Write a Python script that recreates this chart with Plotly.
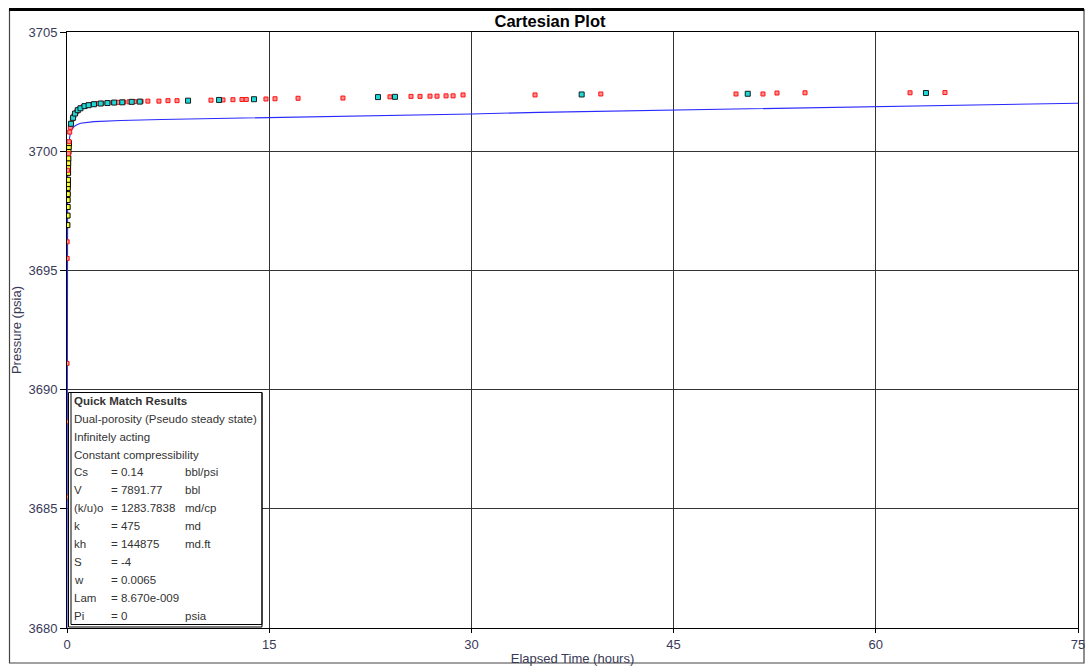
import plotly.graph_objects as go

# ---------------- data ----------------
red_t = [0.0, 0.0, 0.0, 0.01, 0.01, 0.05, 0.1, 0.15, 0.2, 0.25, 0.3, 0.4, 0.5, 0.6, 0.7, 0.8,
         0.9, 1.0, 1.2, 1.4, 1.6, 1.8, 2.0, 2.3, 2.6, 3.0, 3.4, 3.8, 4.2, 4.6, 5.0, 5.5, 6.0,
         6.82, 7.49, 8.16, 10.68, 11.57, 12.31, 12.98, 13.3, 14.76, 15.43, 17.14, 20.47,
         23.96, 25.52, 26.19, 26.93, 27.45, 28.12, 28.64, 29.38, 34.72, 39.6, 49.63, 51.63,
         52.67, 54.75, 62.54, 65.13]
red_p = [3685.5, 3688.65, 3691.1, 3695.5, 3696.2, 3699.2, 3699.9, 3700.4, 3700.8, 3701.0,
         3701.15, 3701.35, 3701.48, 3701.58, 3701.65, 3701.72, 3701.77, 3701.81, 3701.87,
         3701.91, 3701.94, 3701.96, 3701.98, 3702.0, 3702.01, 3702.03, 3702.04, 3702.05,
         3702.06, 3702.07, 3702.08, 3702.09, 3702.1, 3702.1, 3702.12, 3702.12, 3702.14,
         3702.15, 3702.16, 3702.17, 3702.17, 3702.19, 3702.2, 3702.22, 3702.23, 3702.28,
         3702.3, 3702.3, 3702.31, 3702.31, 3702.32, 3702.32, 3702.36, 3702.36, 3702.4,
         3702.4, 3702.4, 3702.44, 3702.45, 3702.45, 3702.46]

cyan_t = [0.3, 0.45, 0.6, 0.8, 1.0, 1.3, 1.6, 2.0, 2.5, 3.0, 3.5, 4.1, 4.8, 5.4,
          8.98, 11.28, 13.87, 23.07, 24.33, 38.18, 50.5, 63.72]
cyan_p = [3701.15, 3701.4, 3701.58, 3701.72, 3701.8, 3701.89, 3701.93, 3701.97, 3702.0,
          3702.02, 3702.04, 3702.05, 3702.07, 3702.08, 3702.12, 3702.15, 3702.18, 3702.27,
          3702.28, 3702.38, 3702.41, 3702.44]

yellow_t = [0.03, 0.04, 0.05, 0.05, 0.06, 0.06, 0.07, 0.07, 0.08, 0.08, 0.09, 0.1, 0.11,
            0.13, 0.15]
yellow_p = [3696.9, 3697.3, 3697.66, 3697.95, 3698.2, 3698.46, 3698.62, 3698.8, 3699.09,
            3699.3, 3699.5, 3699.7, 3699.97, 3700.18, 3700.34]

model_t = [0.0, 0.02, 0.05, 0.1, 0.2, 0.3, 0.5, 0.7, 1.0, 2.0, 4.0, 7.0, 10.0, 15.0, 20.0,
           25.0, 30.0, 35.0, 40.0, 45.0, 50.0, 55.0, 60.0, 65.0, 70.0, 75.0]
model_p = [3680.0, 3697.0, 3699.3, 3700.0, 3700.6, 3700.85, 3701.02, 3701.1, 3701.17,
           3701.24, 3701.29, 3701.33, 3701.36, 3701.39, 3701.43, 3701.49, 3701.56, 3701.63,
           3701.68, 3701.73, 3701.78, 3701.83, 3701.87, 3701.92, 3701.97, 3702.01]

x_ticks = [0, 15, 30, 45, 60, 75]
y_ticks = [3680, 3685, 3690, 3695, 3700, 3705]

results_title = "Quick Match Results"
results_lines = ["Dual-porosity (Pseudo steady state)", "Infinitely acting",
                 "Constant compressibility"]
param_names = ["Cs", "V", "(k/u)o", "k", "kh", "S", "w", "Lam", "Pi"]
param_values = ["= 0.14", "= 7891.77", "= 1283.7838", "= 475", "= 144875", "= -4",
                "= 0.0065", "= 8.670e-009", "= 0"]
param_units = ["bbl/psi", "bbl", "md/cp", "md", "md.ft", "", "", "", "psia"]

# ---------------- figure ----------------
FONT = "Arial, 'Liberation Sans', sans-serif"
TXT = "#3a3a58"
BOX_TXT = "#333333"

W, H = 1088, 666
# plot area in page pixels: x 67..1078, y 32..628
PL, PR, PT, PB = 67, 1078, 32, 628
L, T = PL, PT
R = W - PR
B = H - PB


def px(x):
    return (x - PL) / (PR - PL)


def py(y):
    return (PB - y) / (PB - PT)


fig = go.Figure()

fig.add_trace(go.Scatter(x=model_t, y=model_p, mode="lines",
                         line=dict(color="#2a2aff", width=1.1), showlegend=False,
                         hoverinfo="skip"))
fig.add_trace(go.Scatter(x=yellow_t, y=yellow_p, mode="markers",
                         marker=dict(symbol="square", size=5, color="#ffff30",
                                     line=dict(color="#000000", width=1)),
                         showlegend=False))
fig.add_trace(go.Scatter(x=red_t, y=red_p, mode="markers",
                         marker=dict(symbol="square", size=4, color="#ff9090",
                                     line=dict(color="#ff1010", width=1)),
                         showlegend=False))
fig.add_trace(go.Scatter(x=cyan_t, y=cyan_p, mode="markers",
                         marker=dict(symbol="square", size=5, color="#20d8d8",
                                     line=dict(color="#102020", width=1)),
                         showlegend=False))

shapes = []
# outer frame
shapes.append(dict(type="rect", xref="paper", yref="paper", x0=px(9.5), x1=px(1084),
                   y0=py(663), y1=py(9.5), line=dict(color="#444444", width=1.2),
                   layer="below"))
shapes.append(dict(type="line", xref="paper", yref="paper", x0=px(9), x1=px(1084),
                   y0=py(9.5), y1=py(9.5), line=dict(color="#000000", width=3)))
# results box (opaque, covers the grid)
shapes.append(dict(type="rect", xref="paper", yref="paper", x0=px(68.5), x1=px(262),
                   y0=py(627), y1=py(392.5), fillcolor="white",
                   line=dict(color="#000000", width=1), layer="above"))
shapes.append(dict(type="rect", xref="paper", yref="paper", x0=px(71), x1=px(262),
                   y0=py(624.5), y1=py(392.5), fillcolor="rgba(0,0,0,0)",
                   line=dict(color="#000000", width=1), layer="above"))

annotations = []
row0 = 400.7
step = 17.94
FS = 11.5
annotations.append(dict(text="<b>" + results_title + "</b>", x=px(72), y=py(row0),
                        xref="paper", yref="paper", xanchor="left", yanchor="middle",
                        showarrow=False, font=dict(family=FONT, size=FS, color=BOX_TXT)))
for i, s in enumerate(results_lines):
    annotations.append(dict(text=s, x=px(72), y=py(row0 + step * (i + 1)),
                            xref="paper", yref="paper", xanchor="left", yanchor="middle",
                            showarrow=False,
                            font=dict(family=FONT, size=FS, color=BOX_TXT)))
for j, (n, v, u) in enumerate(zip(param_names, param_values, param_units)):
    yy = py(row0 + step * (j + 1 + len(results_lines)))
    for xx, s in ((72, n), (109, v), (183, u)):
        if s:
            annotations.append(dict(text=s, x=px(xx), y=yy, xref="paper", yref="paper",
                                    xanchor="left", yanchor="middle", showarrow=False,
                                    font=dict(family=FONT, size=FS, color=BOX_TXT)))

fig.update_layout(
    width=W, height=H, autosize=False,
    margin=dict(l=L, r=R, t=T, b=B, pad=0),
    paper_bgcolor="white", plot_bgcolor="white",
    title=dict(text="<b>Cartesian Plot</b>", x=550 / W, xref="container",
               xanchor="center", y=1 - 21 / H, yref="container", yanchor="middle",
               font=dict(family=FONT, size=16.5, color="#000000")),
    xaxis=dict(range=[0, 75], tickvals=x_ticks, ticktext=[str(v) for v in x_ticks],
               automargin=False, layer="below traces",
               showgrid=True, gridcolor="#333333", gridwidth=1, zeroline=False,
               showline=True, linecolor="#000000", linewidth=1, mirror=True,
               ticks="outside", ticklen=4, tickcolor="#000000",
               tickfont=dict(family=FONT, size=13, color=TXT),
               title=dict(text="Elapsed Time (hours)", standoff=4,
                          font=dict(family=FONT, size=13, color=TXT))),
    yaxis=dict(range=[3680, 3705], tickvals=y_ticks, ticktext=[str(v) for v in y_ticks],
               automargin=False, layer="below traces",
               showgrid=True, gridcolor="#333333", gridwidth=1, zeroline=False,
               showline=True, linecolor="#000000", linewidth=1, mirror=True,
               ticks="outside", ticklen=6, tickcolor="#000000",
               tickfont=dict(family=FONT, size=13, color=TXT),
               title=dict(text="Pressure (psia)", standoff=3,
                          font=dict(family=FONT, size=13, color=TXT))),
    shapes=shapes,
    annotations=annotations,
)

fig.write_html("out.html",
               config={"displayModeBar": False},
               post_script="document.body.style.margin='0px';"
                           "document.body.style.overflow='hidden';")
